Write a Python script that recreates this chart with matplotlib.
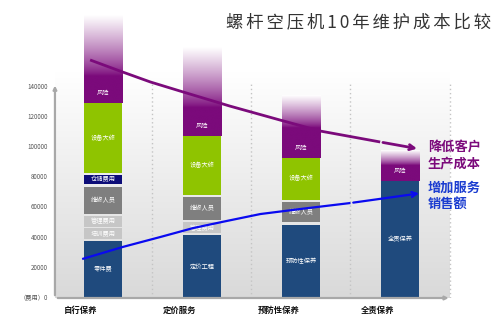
import numpy as np
import matplotlib
matplotlib.use("Agg")
import matplotlib.pyplot as plt
from matplotlib.colors import to_rgb

plt.rcParams['font.family'] = ['Noto Sans CJK SC', 'DejaVu Sans']

# categories and stacked segments (bottom, top)
categories = ['自行保养', '定价服务', '预防性保养', '全责保养']

seg_names = [
    ['零件费', '培训费用', '管理费用', '维修人员', '仓储费用', '设备大修'],
    ['定价工程', '管理费用', '维修人员', '设备大修'],
    ['预防性保养', '维修人员', '设备大修'],
    ['全责保养'],
]
seg_bottoms = [
    [0, 39000, 47000, 55600, 75500, 82800],
    [0, 43000, 51600, 68200],
    [0, 50300, 65000],
    [0],
]
seg_tops = [
    [38000, 46300, 54300, 73500, 81400, 129100],
    [41700, 50300, 66900, 107200],
    [48300, 63600, 93000],
    [77500],
]

# risk part (gradient bar on top)
risk_bottom = [129100, 107200, 93000, 77500]
risk_solid = [147000, 126000, 113000, 88000]
risk_top = [187000, 165500, 134400, 98000]

# lines
purple_x = [-0.13, 0.17, 0.48, 0.88, 1.28, 1.79, 2.19, 2.80, 3.20]
purple_y = [157600, 150300, 143000, 135000, 127100, 117800, 110600, 103300, 98600]
blue_x = [-0.21, 0.20, 0.58, 0.91, 1.25, 1.59, 1.99, 2.50, 3.22]
blue_y = [25800, 33800, 40400, 46300, 51000, 55600, 58900, 62900, 69500]

yticks = [0, 20000, 40000, 60000, 80000, 100000, 120000, 140000]
ytick_labels = ['（费用）0', '20000', '40000', '60000', '80000', '100000', '120000', '140000']

title = '螺杆空压机10年维护成本比较'

colors = {
    '零件费': '#1f4a7d', '定价工程': '#1f4a7d', '预防性保养': '#1f4a7d', '全责保养': '#1f4a7d',
    '培训费用': '#c6c6c6', '管理费用': '#c6c6c6',
    '维修人员': '#7f7f7f', '仓储费用': '#0c0c78', '设备大修': '#8fc400',
}
purple = '#7b0a7b'

fig = plt.figure(figsize=(5, 3.22), dpi=100)
ax = fig.add_axes([0, 0.0745, 1, 0.9255])
ax.set_xlim(-1.04, 4.01)
ax.set_ylim(0, 197300)
ax.axis('off')

# background gradient
grad = np.linspace(0, 1, 200).reshape(-1, 1)
c0 = np.array(to_rgb('#d9d9d9'))
c1 = np.array([1.0, 1.0, 1.0])
bg = c0 + (c1 - c0) * grad[..., None]
bg = np.repeat(bg, 2, axis=1)
ax.imshow(bg, extent=[-0.485, 3.5, 0, 150000], origin='lower', aspect='auto', zorder=0)

# dotted separators
for xv in [0.5, 1.5, 2.5, 3.5]:
    ax.plot([xv, xv], [0, 143000], color='#c4c4c4', ls=(0, (1, 2)), lw=1, zorder=1)

width = 0.39
for i in range(len(categories)):
    for name, b, t in zip(seg_names[i], seg_bottoms[i], seg_tops[i]):
        ax.bar(i, t - b, bottom=b, width=width, color=colors[name], zorder=2)
        ax.text(i, (b + t) / 2, name, color='white', fontsize=4.5,
                ha='center', va='center', zorder=3)
    # gradient risk bar
    n = 200
    ys = np.linspace(risk_bottom[i], risk_top[i], n)
    f = np.clip((ys - risk_solid[i]) / (risk_top[i] - risk_solid[i]), 0, 1) ** 0.8
    pc = np.array(to_rgb(purple))
    img = pc + (1 - pc) * f[:, None]
    img = img[:, None, :].repeat(2, axis=1)
    ax.imshow(img, extent=[i - width / 2, i + width / 2, risk_bottom[i], risk_top[i]],
              origin='lower', aspect='auto', zorder=2)
    ax.text(i, risk_bottom[i] + 6500, '风险', color='white', fontsize=4.5,
            ha='center', va='center', zorder=3)
    ax.text(i - 0.23, -8000, categories[i], fontsize=6, fontweight='bold',
            ha='center', va='center', color='#111111', clip_on=False)

# axes with arrows
ax.annotate('', xy=(-0.485, 142500), xytext=(-0.485, 0),
            arrowprops=dict(arrowstyle='-|>', color='#a8a8a8', lw=1.6, mutation_scale=5))
ax.annotate('', xy=(3.52, 0), xytext=(-0.485, 0),
            arrowprops=dict(arrowstyle='-|>', color='#a8a8a8', lw=1.6, mutation_scale=5))

for v, lab in zip(yticks, ytick_labels):
    ax.text(-0.555, v, lab, fontsize=4.5, ha='right', va='center', color='#555555')

# lines with arrows
ax.plot(purple_x[:-1], purple_y[:-1], color=purple, lw=2, zorder=4, solid_capstyle='butt')
ax.annotate('', xy=(purple_x[-1], purple_y[-1]), xytext=(purple_x[-2], purple_y[-2]),
            arrowprops=dict(arrowstyle='->', color=purple, lw=2, mutation_scale=9), zorder=4)
ax.plot(blue_x[:-1], blue_y[:-1], color='#0a0af0', lw=1.6, zorder=4, solid_capstyle='butt')
ax.annotate('', xy=(blue_x[-1], blue_y[-1]), xytext=(blue_x[-2], blue_y[-2]),
            arrowprops=dict(arrowstyle='->', color='#0a0af0', lw=1.6, mutation_scale=9), zorder=4)

ax.text(3.28, 104600, '降低客户\n生产成本', color=purple, fontsize=9.5, fontweight='bold',
        ha='left', va='top', linespacing=1.2)
ax.text(3.28, 77500, '增加服务\n销售额', color='#1a3cd0', fontsize=9.5, fontweight='bold',
        ha='left', va='top', linespacing=1.2)

# title, letters spaced out with six-per-em spaces
spaced_title = '\u2006'.join(title)
fig.text(226 / 500, 1 - 22 / 322, spaced_title, fontsize=12.5, color='#333333',
         ha='left', va='center')

fig.savefig('out.png', dpi=100)
